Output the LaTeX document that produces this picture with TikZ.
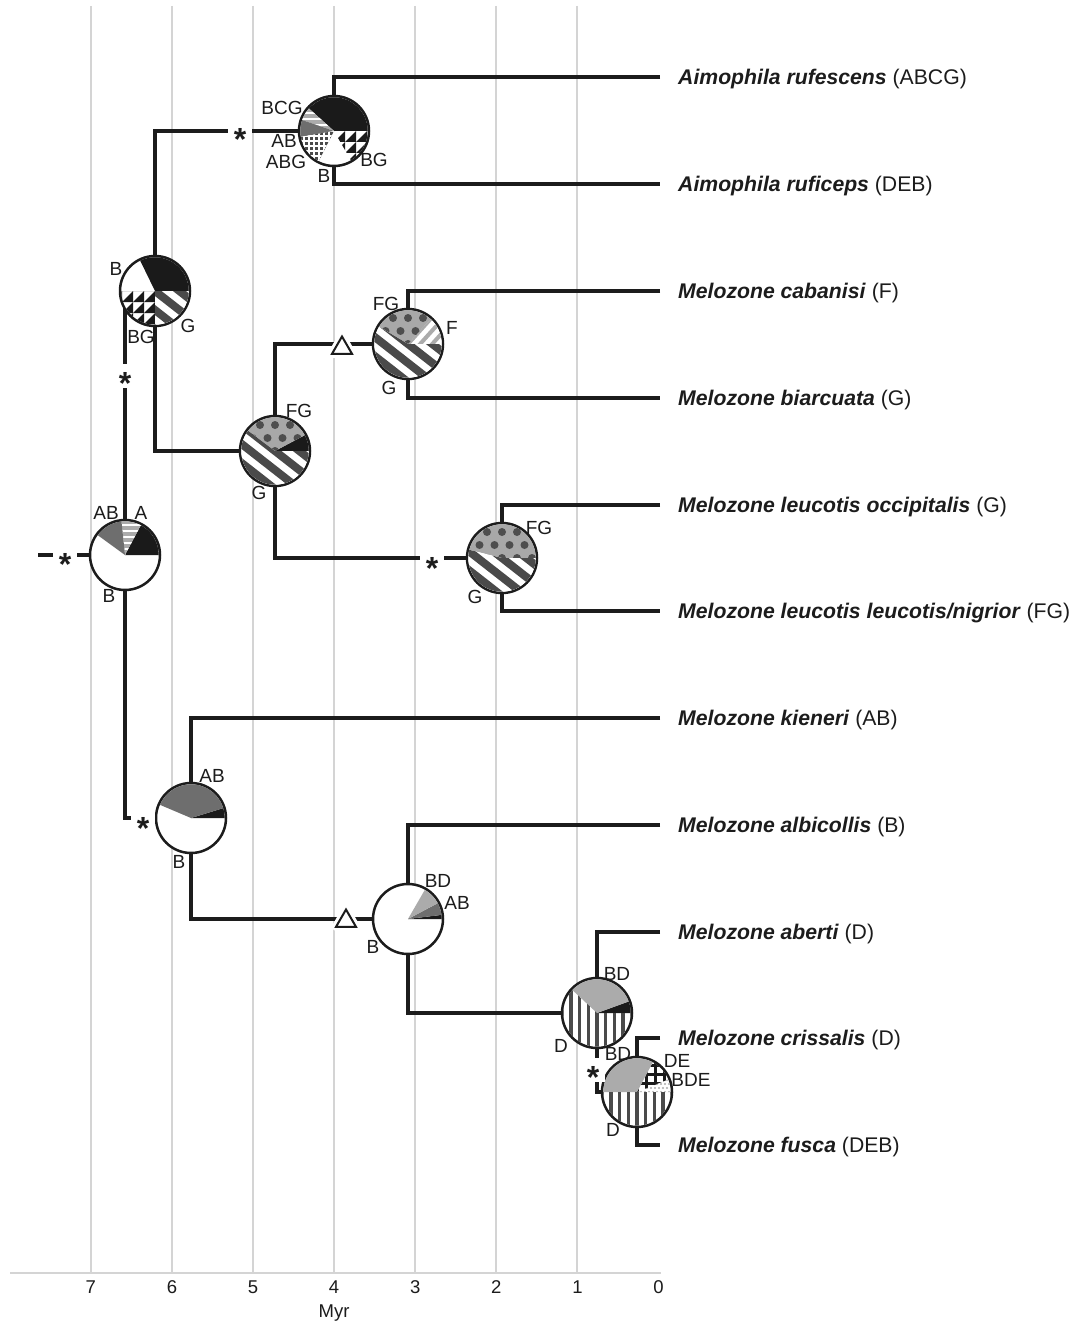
\documentclass[tikz,border=0pt]{standalone}
\usepackage{fontspec}
\setmainfont{Liberation Sans}
\usepackage{tikz}
\usetikzlibrary{positioning, shapes.geometric}
\definecolor{ink}{HTML}{1C1C1C}
\definecolor{gridc}{HTML}{D4D4D4}
\definecolor{pblack}{HTML}{1A1A1A}
\definecolor{pdark}{HTML}{6E6E6E}
\definecolor{plight}{HTML}{ABABAB}
\definecolor{pstripe}{HTML}{4A4A4A}
\definecolor{pdotbg}{HTML}{A8A8A8}
\definecolor{pdot}{HTML}{4E4E4E}
\pgfdeclarelayer{bg}
\pgfsetlayers{bg,main}

% one wedge of a range pie: node, from, to, fill
\newcommand{\rangeslice}[4]{%
  \begin{scope}
    \clip (#1.center) -- ++(#2:33.7) arc[start angle=#2, end angle=#3, radius=33.7] -- cycle;
    \begin{scope}[shift={(#1.center)}]#4\end{scope}
  \end{scope}}
\newcommand{\pSolid}[1]{\fill[#1] (0,0) circle[radius=36];}
\newcommand{\pStripes}{\fill[white] (0,0) circle[radius=36];
  \begin{scope}[rotate=-38]
    \foreach \k in {-3,...,3} \fill[pstripe] (-40,\k*15-4) rectangle (40,\k*15+4);
  \end{scope}}
\newcommand{\pLightStripes}{\fill[white] (0,0) circle[radius=36];
  \begin{scope}[rotate=48]
    \foreach \k in {-5,...,5} \fill[plight] (-40,\k*9-2) rectangle (40,\k*9+2);
  \end{scope}}
\newcommand{\pHoriz}{\fill[plight] (0,0) circle[radius=36];
  \foreach \k in {-6,...,6} \draw[white, line width=1.5pt] (-36,\k*6) -- (36,\k*6);}
\newcommand{\pGrid}{\fill[pstripe] (0,0) circle[radius=36];
  \foreach \k in {-7,...,7} {\draw[white, line width=1.3pt] (\k*5,-36) -- (\k*5,36);
    \draw[white, line width=1.3pt] (-36,\k*5) -- (36,\k*5);}}
\newcommand{\pTri}{\foreach \i in {-4,...,3} \foreach \j in {-4,...,3}
  \fill[pblack] (\i*11,\j*11) -- ++(11,0) -- ++(0,11) -- cycle;}
\newcommand{\pDots}{\fill[pdotbg] (0,0) circle[radius=36];
  \foreach \j in {-3,...,3} \foreach \i in {-3,...,3}
    \fill[pdot] ({\i*15+7.5*mod(\j,2)},\j*13) circle[radius=4];}
\newcommand{\pBars}{\foreach \k in {-5,...,5} \fill[pstripe] (\k*8.7-1.7,-36) rectangle (\k*8.7+1.7,36);}
\newcommand{\pCross}{\foreach \k in {-5,...,5} {\fill[pblack] (\k*9-1.5,-36) rectangle (\k*9+1.5,36);
    \fill[pblack] (-36,\k*9-1.5) rectangle (36,\k*9+1.5);}}
\newcommand{\pSpeck}{\foreach \j in {-9,...,9} \foreach \i in {-9,...,9}
  \fill[plight] ({\i*4+2*mod(\j,2)},\j*4) circle[radius=1.2];}
\newcommand{\astx}{\raisebox{-0.57em}[0pt][0pt]{\bfseries *}}

\begin{document}
\begin{tikzpicture}[
  x=1pt, y=1pt,
  gridl/.style={gridc, line width=2pt},
  branch/.style={ink, line width=3.5pt},
  pie/.style={circle, draw=ink, line width=2.5pt, fill=white, minimum size=70pt, inner sep=0pt},
  st/.style={font=\fontsize{19}{19}\selectfont, text=ink, inner sep=0pt},
  tip/.style={font=\fontsize{21.2}{21.2}\selectfont, text=ink, inner sep=0pt, text height=15pt, text depth=0pt},
  tick/.style={font=\fontsize{18.5}{18.5}\selectfont, text=ink, inner sep=0pt},
  ast/.style={fill=white, inner sep=0pt, minimum width=24pt, minimum height=24pt, text=ink,
    font=\fontsize{32}{32}\selectfont},
  tri/.style={regular polygon, regular polygon sides=3, draw=ink, line width=2pt, fill=white,
    minimum size=23pt, inner sep=0pt, preaction={draw=white, line width=8pt, line join=round}}
]
  \useasboundingbox (0,0) rectangle (1074,-1324);

  % pies at the nodes
  \node[pie] (pRoot) at (125,-555) {};
  \node[pie] (pTop) at (155,-291) {};
  \node[pie] (pAim) at (334,-131) {};
  \node[pie] (pMel) at (275,-451) {};
  \node[pie] (pCab) at (408,-344) {};
  \node[pie] (pLeu) at (502,-558) {};
  \node[pie] (pLow) at (191,-818) {};
  \node[pie] (pAlb) at (408,-919) {};
  \node[pie] (pAbe) at (597,-1013) {};
  \node[pie] (pCri) at (637,-1092) {};
  \coordinate (rStem) at (38,-555);

  % tips
  \foreach \id/\yy/\sp/\ar in {Ruf/77/Aimophila rufescens/ABCG, Rcp/184/Aimophila ruficeps/DEB,
      Cab/291/Melozone cabanisi/F, Bia/398/Melozone biarcuata/G,
      Occ/505/Melozone leucotis occipitalis/G, Leu/611/Melozone leucotis leucotis\slash nigrior/FG,
      Kie/718/Melozone kieneri/AB, Alb/825/Melozone albicollis/B, Abe/932/Melozone aberti/D,
      Cri/1038/Melozone crissalis/D, Fus/1145/Melozone fusca/DEB} {
    \coordinate (t\id) at (660,-\yy);
    \node[tip, right=18pt of t\id] (l\id) {\textbf{\textit{\sp}} (\ar)};
  }

  \begin{pgfonlayer}{bg}
    \fill[white] (0,0) rectangle (1074,-1324);
    \foreach \a in {1,...,7}
      \draw[gridl] ({658.5-81.1*\a},-6) -- ({658.5-81.1*\a},-1273);
    \draw[gridl] (10,-1273) -- (661,-1273);

    \draw[branch] (rStem) -- (pRoot);
    \draw[branch] (pTop) -| (pRoot) |- (pLow);
    \draw[branch] (pAim) -| (pTop) |- (pMel);
    \draw[branch] (tRuf) -| (pAim) |- (tRcp);
    \draw[branch] (pCab) -| (pMel) |- (pLeu);
    \draw[branch] (tCab) -| (pCab) |- (tBia);
    \draw[branch] (tOcc) -| (pLeu) |- (tLeu);
    \draw[branch] (tKie) -| (pLow) |- (pAlb);
    \draw[branch] (tAlb) -| (pAlb) |- (pAbe);
    \draw[branch] (tAbe) -| (pAbe) |- (pCri);
    \draw[branch] (tCri) -| (pCri) |- (tFus);
  \end{pgfonlayer}

  % wedges
  \rangeslice{pRoot}{0}{62}{\pSolid{pblack}}
  \rangeslice{pRoot}{62}{96}{\pHoriz}
  \rangeslice{pRoot}{96}{144}{\pSolid{pdark}}

  \rangeslice{pTop}{0}{116}{\pSolid{pblack}}
  \rangeslice{pTop}{180}{270}{\pTri}
  \rangeslice{pTop}{270}{360}{\pStripes}

  \rangeslice{pAim}{0}{138}{\pSolid{pblack}}
  \rangeslice{pAim}{138}{161}{\pHoriz}
  \rangeslice{pAim}{161}{190}{\pSolid{pdark}}
  \rangeslice{pAim}{190}{243}{\pGrid}
  \rangeslice{pAim}{300}{360}{\pTri}

  \rangeslice{pMel}{0}{28}{\pSolid{pblack}}
  \rangeslice{pMel}{28}{143}{\pDots}
  \rangeslice{pMel}{143}{360}{\pStripes}

  \rangeslice{pCab}{0}{48}{\pLightStripes}
  \rangeslice{pCab}{48}{149}{\pDots}
  \rangeslice{pCab}{149}{360}{\pStripes}

  \rangeslice{pLeu}{0}{166}{\pDots}
  \rangeslice{pLeu}{166}{360}{\pStripes}

  \rangeslice{pLow}{0}{17}{\pSolid{pblack}}
  \rangeslice{pLow}{17}{157}{\pSolid{pdark}}

  \rangeslice{pAlb}{0}{7}{\pSolid{pblack}}
  \rangeslice{pAlb}{7}{28}{\pSolid{pdark}}
  \rangeslice{pAlb}{28}{60}{\pSolid{plight}}

  \rangeslice{pAbe}{0}{20}{\pSolid{pblack}}
  \rangeslice{pAbe}{20}{137}{\pSolid{plight}}
  \rangeslice{pAbe}{137}{360}{\pBars}

  \rangeslice{pCri}{0}{22}{\pSpeck}
  \rangeslice{pCri}{22}{62}{\pCross}
  \rangeslice{pCri}{62}{180}{\pSolid{plight}}
  \rangeslice{pCri}{180}{360}{\pBars}

  % area labels
  \node[st] (sRoot1) at (106,-513) {AB};
  \node[st] (sRoot2) at (141,-513) {A};
  \node[st] (sRoot3) at (109,-596) {B};
  \node[st] (sTop1) at (116,-269) {B};
  \node[st] (sTop2) at (141,-337) {BG};
  \node[st] (sTop3) at (188,-326) {G};
  \node[st] (sAim1) at (282,-108) {BCG};
  \node[st] (sAim2) at (284,-141) {AB};
  \node[st] (sAim3) at (286,-162) {ABG};
  \node[st] (sAim4) at (324,-176) {B};
  \node[st] (sAim5) at (374,-160) {BG};
  \node[st] (sMel1) at (299,-411) {FG};
  \node[st] (sMel2) at (259,-493) {G};
  \node[st] (sCab1) at (386,-304) {FG};
  \node[st] (sCab2) at (452,-328) {F};
  \node[st] (sCab3) at (389,-388) {G};
  \node[st] (sLeu1) at (539,-528) {FG};
  \node[st] (sLeu2) at (475,-597) {G};
  \node[st] (sLow1) at (212,-776) {AB};
  \node[st] (sLow2) at (179,-862) {B};
  \node[st] (sAlb1) at (438,-881) {BD};
  \node[st] (sAlb2) at (457,-903) {AB};
  \node[st] (sAlb3) at (373,-947) {B};
  \node[st] (sAbe1) at (617,-974) {BD};
  \node[st] (sAbe2) at (561,-1046) {D};
  \node[st] (sCri1) at (618,-1054) {BD};
  \node[st] (sCri2) at (677,-1061) {DE};
  \node[st] (sCri3) at (691,-1080) {BDE};
  \node[st] (sCri4) at (613,-1130) {D};

  % marks on branches
  \node[ast] (a1) at (65,-557) {\astx};
  \node[ast] (a2) at (240,-132) {\astx};
  \node[ast] (a3) at (125,-376) {\astx};
  \node[ast] (a4) at (432,-561) {\astx};
  \node[ast] (a5) at (143,-821) {\astx};
  \node[ast] (a6) at (593,-1070) {\astx};
  \node[tri] (d1) at (342,-348) {};
  \node[tri] (d2) at (346,-921) {};

  % time axis
  \foreach \a in {0,...,7}
    \node[tick] (k\a) at ({658.5-81.1*\a},-1287) {\a};
  \node[tick] (myr) at (334,-1313) {Myr};
\end{tikzpicture}
\end{document}
